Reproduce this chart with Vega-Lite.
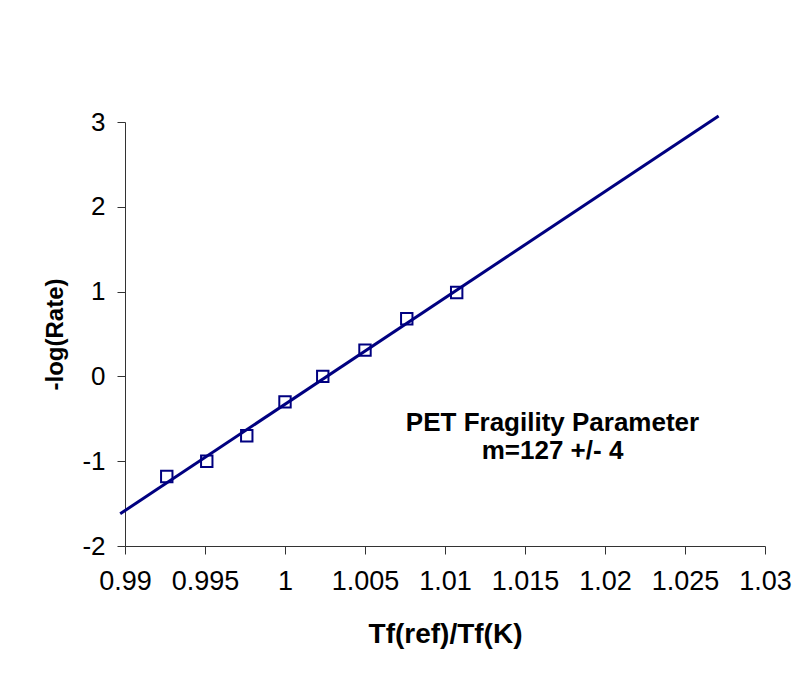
{
  "$schema": "https://vega.github.io/schema/vega-lite/v6.json",
  "width": 640,
  "height": 424,
  "autosize": {"type": "none"},
  "padding": {"left": 125, "top": 122, "right": 31, "bottom": 131},
  "background": "white",
  "config": {
    "view": {"stroke": null},
    "font": "Liberation Sans",
    "axis": {
      "grid": false,
      "domainColor": "#333",
      "tickColor": "#333",
      "domainWidth": 1,
      "tickWidth": 1,
      "tickSize": 8,
      "labelFont": "Liberation Sans",
      "labelFontSize": 26,
      "labelColor": "black",
      "titleFont": "Liberation Sans",
      "titleFontWeight": "bold",
      "titleColor": "black"
    }
  },
  "datasets": {
    "points": [
      {"x": 0.99261, "y": -1.18},
      {"x": 0.99511, "y": -1.0},
      {"x": 0.99761, "y": -0.70},
      {"x": 1.0, "y": -0.30},
      {"x": 1.00236, "y": 0.0},
      {"x": 1.0050, "y": 0.31},
      {"x": 1.00761, "y": 0.68},
      {"x": 1.01073, "y": 0.99}
    ],
    "fit": [
      {"x": 0.9897, "y": -1.62},
      {"x": 1.0271, "y": 3.07}
    ],
    "notes": [
      {"x": 1.01672, "y": -0.55, "label": "PET Fragility Parameter"},
      {"x": 1.01672, "y": -0.88, "label": "m=127 +/- 4"}
    ]
  },
  "layer": [
    {
      "data": {"name": "fit"},
      "mark": {"type": "line", "color": "#000080", "strokeWidth": 3, "clip": false},
      "encoding": {
        "x": {
          "field": "x", "type": "quantitative",
          "scale": {"domain": [0.99, 1.03], "nice": false, "zero": false},
          "axis": {
            "values": [0.99, 0.995, 1, 1.005, 1.01, 1.015, 1.02, 1.025, 1.03],
            "labelExpr": "toString(datum.value)",
            "labelPadding": 14,
            "labelFontSize": 27,
            "labelFlush": false,
            "labelOverlap": false,
            "title": "Tf(ref)/Tf(K)",
            "titleFontSize": 28,
            "titlePadding": 26
          }
        },
        "y": {
          "field": "y", "type": "quantitative",
          "scale": {"domain": [-2, 3], "nice": false, "zero": false},
          "axis": {
            "values": [-2, -1, 0, 1, 2, 3],
            "labelExpr": "toString(datum.value)",
            "labelPadding": 12,
            "title": "-log(Rate)",
            "titleFontSize": 24,
            "titlePadding": 14
          }
        }
      }
    },
    {
      "data": {"name": "points"},
      "mark": {"type": "point", "shape": "square", "filled": false, "color": "#000080", "size": 130, "strokeWidth": 2, "opacity": 1},
      "encoding": {
        "x": {"field": "x", "type": "quantitative"},
        "y": {"field": "y", "type": "quantitative"}
      }
    },
    {
      "data": {"name": "notes"},
      "mark": {"type": "text", "font": "Liberation Sans", "fontWeight": "bold", "fontSize": 26, "color": "black", "align": "center", "baseline": "middle"},
      "encoding": {
        "x": {"field": "x", "type": "quantitative"},
        "y": {"field": "y", "type": "quantitative"},
        "text": {"field": "label"}
      }
    }
  ]
}
